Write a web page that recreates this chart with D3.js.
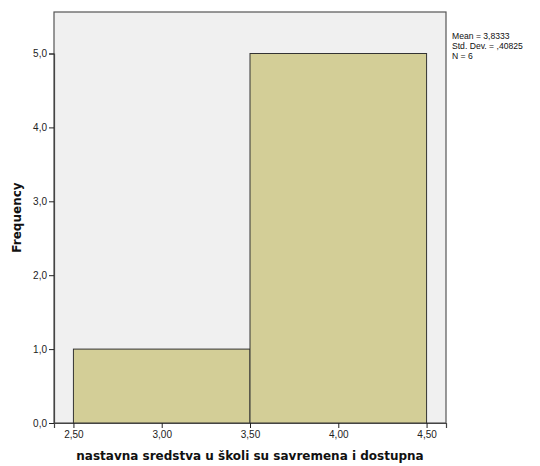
<!DOCTYPE html>
<html><head><meta charset="utf-8">
<script src="https://cdn.jsdelivr.net/npm/d3@7"></script>
<style>body{margin:0;background:#fff}svg{display:block}</style>
</head><body>
<svg id="c" width="540" height="466"></svg>
<script>
const binStarts = [2.5, 3.5];
const binEnds = [3.5, 4.5];
const frequencies = [1, 5];
const xTicks = [2.5, 3.0, 3.5, 4.0, 4.5];
const yTicks = [0, 1, 2, 3, 4, 5];
const statsLines = ["Mean = 3,8333", "Std. Dev. = ,40825", "N = 6"];
const xTitle = "nastavna sredstva u školi su savremena i dostupna";
const yTitle = "Frequency";

const svg = d3.select("#c");
const L = 54, T = 12, R = 446, B = 423;
const x = d3.scaleLinear().domain([2.39, 4.61]).range([L, R]);
const y = d3.scaleLinear().domain([0, 5]).range([B, 53.5]);

svg.append("rect").attr("x", L).attr("y", T).attr("width", R - L).attr("height", B - T)
  .attr("fill", "#f0f0f0").attr("stroke", "#555").attr("stroke-width", 1.2);

svg.selectAll("rect.bar").data(frequencies).enter().append("rect").attr("class", "bar")
  .attr("x", (d, i) => x(binStarts[i]))
  .attr("y", d => y(d))
  .attr("width", (d, i) => x(binEnds[i]) - x(binStarts[i]))
  .attr("height", d => B - y(d))
  .attr("fill", "#d3ce97").attr("stroke", "#333").attr("stroke-width", 1);

const fmt = (v, n) => v.toFixed(n).replace(".", ",");

const xa = svg.append("g").attr("transform", `translate(0,${B})`)
  .call(d3.axisBottom(x).tickValues(xTicks).tickSize(5).tickPadding(3).tickFormat(d => fmt(d, 2)));
const ya = svg.append("g").attr("transform", `translate(${L},0)`)
  .call(d3.axisLeft(y).tickValues(yTicks).tickSize(5).tickPadding(2).tickFormat(d => fmt(d, 1)));
[xa, ya].forEach(a => {
  a.select(".domain").attr("stroke", "#444").attr("stroke-width", 1.2);
  a.selectAll(".tick line").attr("stroke", "#222");
  a.selectAll(".tick text").attr("fill", "#222").style("font-family", "'Liberation Sans', Arial, sans-serif").style("font-size", "10px");
});

svg.append("text").attr("x", (L + R) / 2).attr("y", 460).attr("text-anchor", "middle")
  .style("font-family", "'DejaVu Sans', sans-serif").style("font-weight", "bold").style("font-size", "12px")
  .attr("fill", "#111").text(xTitle);

svg.append("text").attr("transform", `translate(21,${(T + B) / 2}) rotate(-90)`).attr("text-anchor", "middle")
  .style("font-family", "'DejaVu Sans', sans-serif").style("font-weight", "bold").style("font-size", "12px")
  .attr("fill", "#111").text(yTitle);

svg.append("g").selectAll("text").data(statsLines).enter().append("text")
  .attr("x", 452).attr("y", (d, i) => 39 + i * 9.8)
  .style("font-family", "'Liberation Sans', Arial, sans-serif").style("font-size", "8.6px")
  .attr("fill", "#111").text(d => d);
</script>
</body></html>
